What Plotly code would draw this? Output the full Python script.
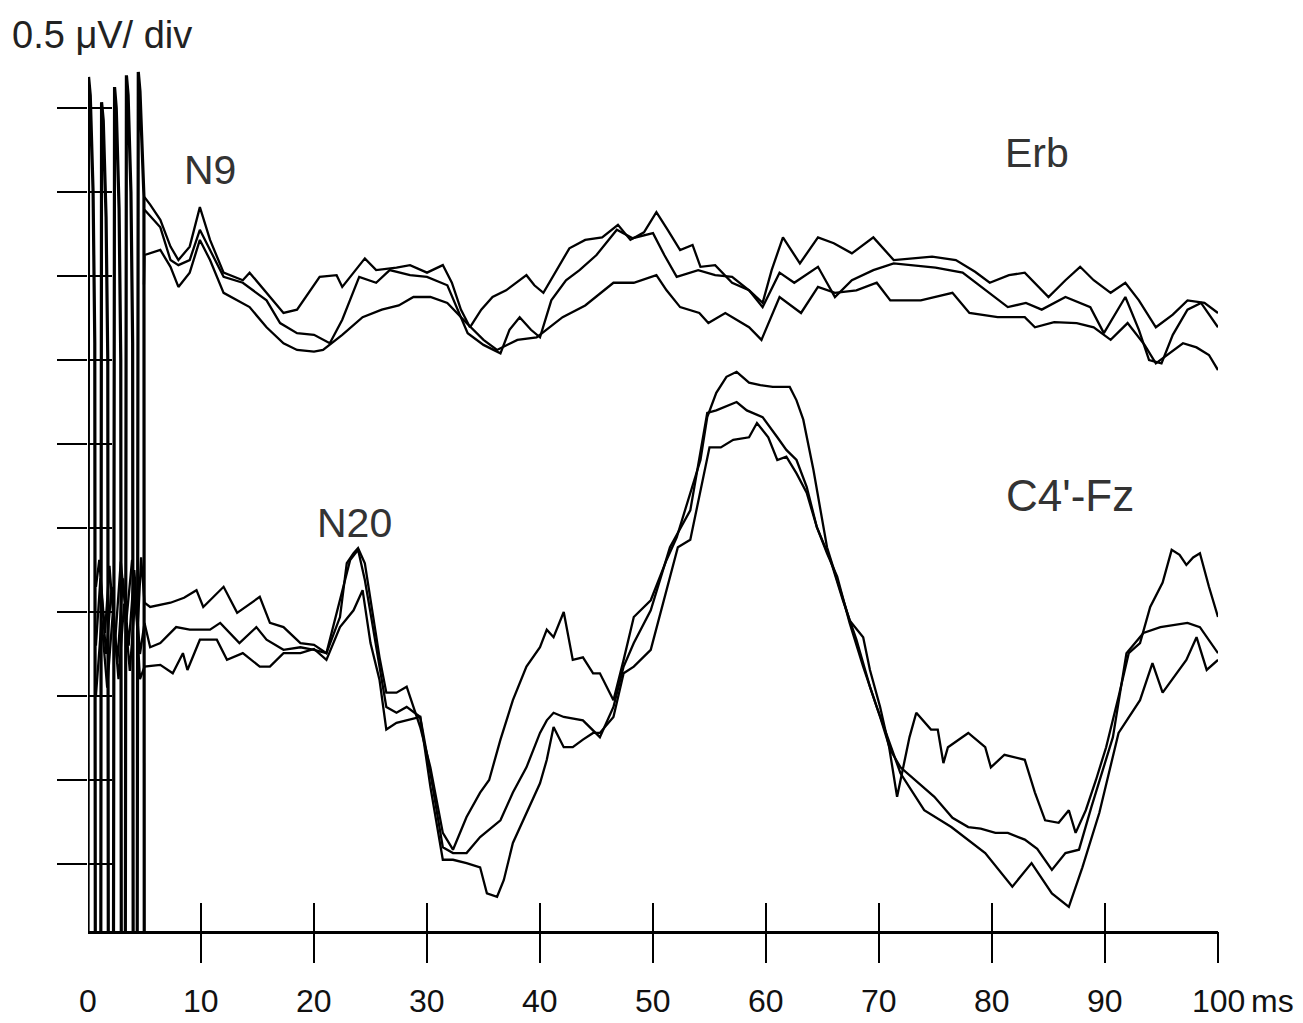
import plotly.graph_objects as go

# Time in ms; amplitude in divisions (1 div = 0.5 uV)
artifact = [(0.00, -1.5), (0.05, 9.37), (0.2, 9.15), (0.45, 8.0), (0.6, 6.2), (0.65, -1.5),
            (1.13, -1.5), (1.2, 9.07), (1.35, 8.85), (1.6, 7.7), (1.75, 6.0), (1.8, -1.5),
            (2.25, -1.5), (2.35, 9.25), (2.5, 9.0), (2.75, 7.8), (2.9, 6.0), (2.95, -1.5),
            (3.3, -1.5), (3.4, 9.39), (3.55, 9.15), (3.8, 8.0), (3.95, 6.2), (4.0, -1.5),
            (4.35, -1.5), (4.45, 9.43), (4.6, 9.2), (4.85, 8.2), (4.95, 7.95), (4.98, -1.5)]

erb_1 = [(5, 7.94), (5.5, 7.85), (6.4, 7.67), (7.3, 7.35), (8, 7.19), (9, 7.35), (9.9, 7.82), (10.8, 7.43),
         (12, 7.04), (13.7, 6.95), (14.3, 7.04), (15.8, 6.80), (17.3, 6.56), (18.5, 6.60), (20.5, 6.99),
         (22, 7.01), (22.5, 6.87), (24.5, 7.21), (25.5, 7.07), (27.3, 7.10), (28.5, 7.13), (30, 7.04),
         (31.4, 7.13), (32.2, 6.92), (33, 6.60), (33.8, 6.39), (34.8, 6.60), (35.8, 6.75), (37, 6.83),
         (38.8, 7.01), (39.5, 6.89), (40.3, 6.80), (41.2, 7.01), (42.6, 7.33), (44, 7.43), (45.5, 7.46),
         (46.9, 7.61), (48, 7.43), (49.2, 7.52), (50.3, 7.76), (51.3, 7.55), (52.4, 7.31), (53.5, 7.37),
         (54.2, 7.11), (55.5, 7.13), (57, 6.92), (58.5, 6.83), (59.7, 6.68), (60.5, 7.07), (61.5, 7.46),
         (63, 7.15), (64.6, 7.46), (66, 7.39), (67.6, 7.27), (69.5, 7.46), (71.3, 7.19), (73, 7.21),
         (74.7, 7.23), (76.8, 7.19), (78.5, 7.05), (79.8, 6.92), (81.5, 7.01), (82.9, 7.04), (85, 6.75),
         (86.5, 6.95), (87.8, 7.11), (89, 6.95), (90.5, 6.80), (91.8, 6.92), (93, 6.71), (94.5, 6.39),
         (96, 6.54), (97.3, 6.71), (98.8, 6.68), (100, 6.56)]

erb_2 = [(5, 7.79), (6.4, 7.58), (7.3, 7.19), (8, 7.13), (9, 7.19), (9.9, 7.55), (10.8, 7.31), (12, 6.99),
         (13.7, 6.92), (15.8, 6.71), (17, 6.44), (18.5, 6.32), (20, 6.30), (21.4, 6.20), (22.5, 6.48),
         (24, 6.99), (25.5, 6.92), (26.7, 7.07), (28.5, 7.01), (30, 6.99), (31.8, 6.89), (32.7, 6.60),
         (33.6, 6.32), (35, 6.18), (36.5, 6.08), (37.3, 6.36), (38.2, 6.51), (39.2, 6.36), (40, 6.27),
         (41, 6.71), (42.3, 6.95), (43.5, 7.07), (45, 7.25), (46.8, 7.55), (48.2, 7.45), (50, 7.51),
         (51, 7.25), (52.1, 6.99), (54, 7.07), (55.5, 7.01), (57, 6.99), (58.5, 6.83), (59.7, 6.63),
         (61.2, 7.04), (62.5, 6.92), (64.6, 7.11), (66.1, 6.75), (67.6, 6.95), (69.5, 7.07), (71.3, 7.15),
         (73, 7.13), (75, 7.10), (77.4, 7.04), (79.5, 6.83), (81.4, 6.63), (83, 6.68), (84.4, 6.60),
         (86.5, 6.75), (88.7, 6.63), (89.9, 6.32), (91.8, 6.75), (93, 6.36), (93.9, 6.00), (95, 5.96),
         (96, 6.30), (97.3, 6.60), (98.5, 6.68), (100, 6.39)]

erb_3 = [(4.95, 6.90), (5, 7.25), (6.4, 7.31), (7.3, 7.11), (8, 6.87), (9, 7.04), (9.9, 7.43), (10.8, 7.19),
         (12, 6.80), (13.7, 6.68), (14.3, 6.63), (15.8, 6.39), (17.3, 6.20), (18.5, 6.12), (20, 6.10),
         (20.8, 6.12), (22.5, 6.30), (24.3, 6.51), (26, 6.60), (27.5, 6.65), (28.8, 6.75), (30.3, 6.75),
         (31.8, 6.68), (33.5, 6.44), (35, 6.24), (36.2, 6.12), (38, 6.24), (39.7, 6.27), (42, 6.51),
         (44, 6.65), (46.5, 6.92), (48.3, 6.92), (50.3, 7.01), (51.2, 6.83), (52.4, 6.63), (54.1, 6.56),
         (54.9, 6.44), (56.4, 6.56), (58.5, 6.39), (59.6, 6.24), (61.2, 6.75), (63.1, 6.56), (64.6, 6.87),
         (66.1, 6.80), (68, 6.83), (69.8, 6.92), (71, 6.71), (73.7, 6.71), (76.5, 6.80), (78, 6.56),
         (80.5, 6.51), (82.9, 6.51), (83.8, 6.39), (85.5, 6.45), (87.5, 6.44), (89, 6.39), (90.5, 6.24),
         (92, 6.44), (93.5, 6.18), (94.5, 5.96), (96.9, 6.20), (98.1, 6.15), (99.2, 6.06), (100, 5.88)]

c4fz_1 = [(0.7, 3.3), (1.0, 3.62), (1.5, 2.75), (1.9, 3.55), (2.4, 2.65), (2.9, 3.6), (3.4, 2.9), (3.9, 3.62),
          (4.4, 2.8), (4.7, 3.65), (5, 3.11), (5.5, 3.06), (7.3, 3.11), (8.5, 3.17), (9.6, 3.26), (10.2, 3.06),
          (12, 3.30), (13.2, 2.99), (15.2, 3.18), (16.1, 2.87), (17.3, 2.82), (18.8, 2.63), (20, 2.61),
          (21.1, 2.51), (22.3, 2.94), (22.9, 3.58), (23.5, 3.70), (23.9, 3.76), (24.5, 3.58), (25, 3.14),
          (25.8, 2.46), (26.4, 2.04), (27.3, 2.04), (28.2, 2.11), (29.4, 1.63), (30.3, 1.15), (31.4, 0.37),
          (32.3, 0.17), (33.5, 0.56), (34.7, 0.85), (35.5, 1.00), (36.5, 1.48), (37.6, 1.95), (38.8, 2.35),
          (40, 2.58), (40.6, 2.79), (41.2, 2.70), (42.1, 3.00), (42.9, 2.43), (43.8, 2.46), (44.7, 2.27),
          (45.3, 2.27), (46.5, 1.95), (47.4, 2.43), (48.3, 2.94), (49.8, 3.14), (51.2, 3.62), (52.1, 3.89),
          (53.3, 4.42), (54.2, 4.81), (54.8, 5.32), (55.6, 5.61), (56.5, 5.80), (57.4, 5.86), (58.5, 5.73),
          (59.5, 5.70), (60.6, 5.68), (62.1, 5.68), (62.7, 5.52), (63.3, 5.29), (64.2, 4.69), (64.8, 4.25),
          (65.4, 3.77), (66.3, 3.38), (67.4, 2.90), (68.6, 2.70), (69.2, 2.31), (70.1, 1.87), (70.9, 1.39),
          (71.6, 0.80), (72.7, 1.51), (73.3, 1.80), (74.6, 1.60), (75.2, 1.60), (75.7, 1.20), (76.1, 1.39),
          (77.9, 1.56), (79.4, 1.39), (79.9, 1.15), (81.1, 1.30), (82.9, 1.24), (83.8, 0.85), (84.7, 0.52),
          (85.9, 0.49), (86.8, 0.64), (87.4, 0.37), (88.3, 0.64), (89.2, 1.00), (90.1, 1.39), (91.2, 1.99),
          (92.1, 2.51), (93.1, 2.63), (94.0, 3.06), (95.1, 3.35), (95.9, 3.74), (96.6, 3.68), (97.2, 3.56),
          (97.8, 3.65), (98.4, 3.70), (99.2, 3.30), (100, 2.94)]

c4fz_2 = [(0.7, 2.6), (1.1, 3.4), (1.6, 2.5), (2.1, 3.3), (2.6, 2.4), (3.1, 3.4), (3.6, 2.6), (4.1, 3.5),
          (4.6, 2.5), (5, 2.87), (5.5, 2.58), (6.4, 2.63), (7.8, 2.82), (9, 2.79), (10.8, 2.79), (11.7, 2.87),
          (13.4, 2.63), (14.9, 2.82), (15.8, 2.67), (17.3, 2.55), (18.8, 2.58), (20, 2.55), (21.1, 2.51),
          (22.3, 3.14), (23.2, 3.62), (23.9, 3.74), (24.5, 3.38), (25, 2.99), (25.8, 2.35), (26.4, 1.87),
          (27.3, 1.80), (28.2, 1.87), (29.4, 1.75), (30.3, 1.08), (31.4, 0.20), (32.3, 0.13), (33.5, 0.13),
          (34.7, 0.32), (36.5, 0.52), (37.6, 0.85), (38.8, 1.15), (40, 1.56), (40.6, 1.71), (41.2, 1.80),
          (42.1, 1.75), (43.8, 1.71), (45.3, 1.51), (46.5, 1.87), (47.4, 2.35), (48.3, 2.63), (49.8, 3.02),
          (51.5, 3.77), (53.3, 4.21), (54.2, 4.89), (54.8, 5.37), (55.6, 5.40), (57.4, 5.50), (58.3, 5.40),
          (59.7, 5.32), (61, 5.08), (61.8, 4.93), (62.7, 4.81), (63.6, 4.49), (64.5, 4.01), (65.7, 3.62),
          (66.8, 3.14), (68, 2.67), (69.2, 2.11), (70.1, 1.75), (71, 1.36), (71.9, 1.15), (74.9, 0.80),
          (76.5, 0.55), (77.9, 0.44), (79, 0.42), (80.3, 0.37), (81.4, 0.37), (82.9, 0.29), (84, 0.18),
          (85.3, -0.07), (86.5, 0.13), (87.7, 0.17), (88.8, 0.68), (90.7, 1.51), (91.9, 2.51), (93.4, 2.75),
          (94.9, 2.82), (97.3, 2.87), (98.4, 2.82), (100, 2.51)]

c4fz_3 = [(0.7, 2.0), (1.2, 2.9), (1.7, 2.1), (2.2, 3.0), (2.7, 2.2), (3.2, 3.1), (3.7, 2.3), (4.2, 3.2),
          (4.6, 2.2), (5, 2.35), (6.4, 2.37), (7.5, 2.27), (8.4, 2.51), (8.8, 2.31), (9.9, 2.67), (11.4, 2.67),
          (12.3, 2.43), (13.7, 2.51), (15.2, 2.35), (16.1, 2.35), (17.3, 2.51), (18.8, 2.51), (20, 2.56),
          (21.1, 2.43), (22.3, 2.82), (23.5, 3.02), (24.3, 3.26), (25, 2.63), (25.8, 2.19), (26.4, 1.60),
          (27.3, 1.68), (28.2, 1.71), (29.4, 1.75), (30.3, 0.92), (31.4, 0.05), (32.3, 0.05), (33.5, 0.01),
          (34.7, -0.04), (35.3, -0.35), (36.2, -0.39), (36.8, -0.19), (37.6, 0.25), (38.8, 0.61), (40, 0.96),
          (40.6, 1.24), (41.2, 1.63), (42.1, 1.39), (42.9, 1.39), (43.8, 1.48), (44.7, 1.56), (45.3, 1.56),
          (46.5, 1.75), (47.4, 2.27), (48.3, 2.35), (49.8, 2.55), (51.2, 3.26), (52.2, 3.77), (53.3, 3.86),
          (54.2, 4.42), (55, 4.96), (56, 4.96), (57.1, 5.05), (58.5, 5.08), (59.2, 5.25), (60.2, 5.08),
          (61, 4.81), (61.8, 4.85), (62.7, 4.65), (63.6, 4.42), (64.5, 4.01), (65.4, 3.70), (66.3, 3.42),
          (67.4, 2.87), (68.6, 2.35), (69.8, 1.87), (71.9, 1.08), (74, 0.64), (76.4, 0.44), (79.4, 0.13),
          (81.8, -0.27), (83.5, 0.01), (85.3, -0.35), (86.8, -0.51), (88, -0.04), (89.5, 0.61), (91.2, 1.56),
          (93.1, 1.95), (94.2, 2.39), (95.1, 2.04), (97.2, 2.43), (98.1, 2.70), (99, 2.31), (100, 2.43)]

x_tick_vals = [0, 10, 20, 30, 40, 50, 60, 70, 80, 90, 100]
x_tick_text = ["0", "10", "20", "30", "40", "50", "60", "70", "80", "90", "100"]
y_tick_vals = [0, 1, 2, 3, 4, 5, 6, 7, 8, 9]

labels = [("N9", 10.8, 8.26, 41), ("Erb", 84.0, 8.46, 41), ("N20", 23.6, 4.06, 41), ("C4'-Fz", 86.9, 4.39, 44)]

FONT = "Liberation Sans, Arial, sans-serif"
fig = go.Figure()

def add(series, width):
    fig.add_trace(go.Scatter(x=[p[0] for p in series], y=[p[1] for p in series], mode="lines",
                             line=dict(color="black", width=width), showlegend=False, hoverinfo="skip"))

for s in (erb_1, erb_2, erb_3, c4fz_1, c4fz_2, c4fz_3):
    add(s, 2.3)
add(artifact, 3.2)

# invisible anchor trace so the overlaid tick axes are drawn
fig.add_trace(go.Scatter(x=[50], y=[5], xaxis="x2", yaxis="y2", mode="markers",
                         marker=dict(opacity=0), showlegend=False, hoverinfo="skip"))

for text, x, y, size in labels:
    fig.add_annotation(x=x, y=y, text=text, showarrow=False, xanchor="center", yanchor="middle",
                       font=dict(family=FONT, size=size, color="#333333"))

fig.add_annotation(xref="paper", yref="paper", x=-0.069, y=1.006, text="0.5 \u03bcV/ div", showarrow=False,
                   xanchor="left", yanchor="middle", font=dict(family=FONT, size=38, color="#222222"))

for v, t in zip(x_tick_vals, x_tick_text):
    fig.add_annotation(x=v, y=-0.798, yshift=-70, text=t, showarrow=False, xanchor="center",
                       yanchor="middle", borderpad=0, font=dict(family=FONT, size=32, color="#111111"))
fig.add_annotation(x=100, y=-0.798, xshift=32, yshift=-70, text="ms", showarrow=False, xanchor="left",
                   yanchor="middle", borderpad=0, font=dict(family=FONT, size=32, color="#111111"))

fig.update_layout(
    width=1303, height=1023,
    margin=dict(l=88, r=85, t=40, b=92, autoexpand=False),
    paper_bgcolor="white", plot_bgcolor="white",
    xaxis=dict(range=[0, 100], showgrid=False, zeroline=False, showline=True, linecolor="black",
               linewidth=2.5, ticks="inside", ticklen=28, tickwidth=1.6, tickcolor="black",
               tickvals=x_tick_vals[1:], showticklabels=False, automargin=False, fixedrange=True),
    xaxis2=dict(range=[0, 100], overlaying="x", anchor="y", side="bottom", showgrid=False, zeroline=False,
                showline=False, ticks="outside", ticklen=31, tickwidth=1.6, tickcolor="black",
                tickvals=x_tick_vals[1:], showticklabels=False, automargin=False, fixedrange=True),
    yaxis=dict(range=[-0.798, 9.81], showgrid=False, zeroline=False, showline=False, ticks="outside",
               ticklen=30, tickwidth=2, tickcolor="black", tickvals=y_tick_vals, showticklabels=False,
               automargin=False, fixedrange=True),
    yaxis2=dict(range=[-0.798, 9.81], overlaying="y", anchor="x", side="left", showgrid=False, zeroline=False,
                showline=False, ticks="inside", ticklen=24, tickwidth=2, tickcolor="black",
                tickvals=y_tick_vals, showticklabels=False, automargin=False, fixedrange=True),
)

fig.write_html("out.html")
